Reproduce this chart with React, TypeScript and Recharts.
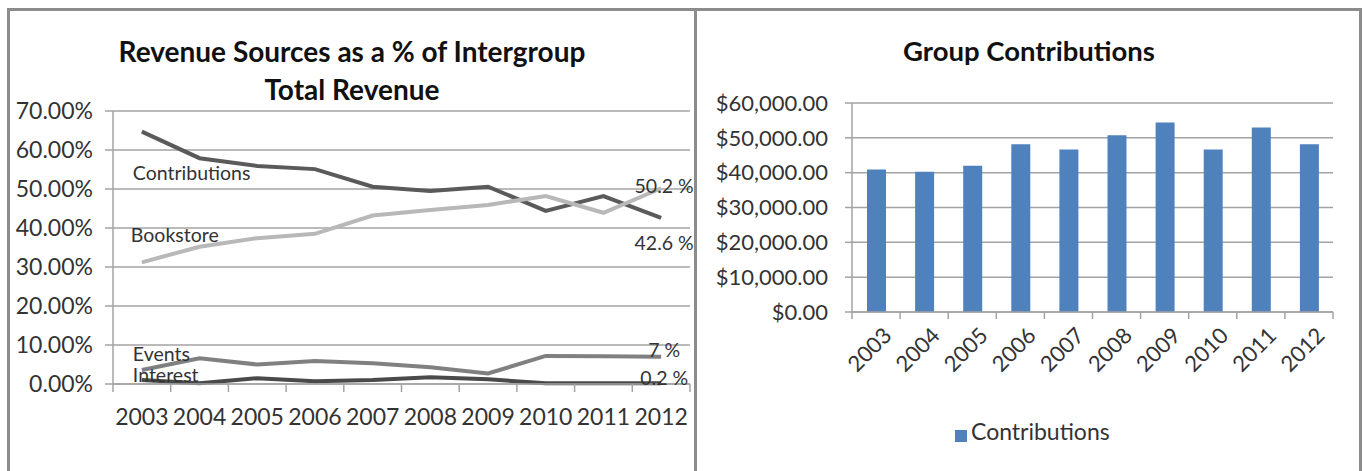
import { BarChart, Bar, CartesianGrid, Legend, Line, LineChart, XAxis, YAxis } from "recharts";

const years = ["2003", "2004", "2005", "2006", "2007", "2008", "2009", "2010", "2011", "2012"];
const contributionsPct = [0.647, 0.579, 0.559, 0.551, 0.506, 0.495, 0.506, 0.444, 0.482, 0.426];
const bookstorePct = [0.312, 0.352, 0.374, 0.385, 0.432, 0.446, 0.459, 0.482, 0.439, 0.502];
const eventsPct = [0.036, 0.066, 0.05, 0.059, 0.053, 0.043, 0.027, 0.072, 0.071, 0.07];
const interestPct = [0.01, 0.002, 0.015, 0.007, 0.01, 0.017, 0.012, 0.002, 0.002, 0.002];
const groupContributions = [40900, 40250, 41970, 48180, 46660, 50760, 54390, 46660, 52960, 48180];
const pctTicks = [0, 0.1, 0.2, 0.3, 0.4, 0.5, 0.6, 0.7];
const dollarTicks = [0, 10000, 20000, 30000, 40000, 50000, 60000];

const FONT = "Lato, 'Open Sans', sans-serif";
const GRID = "#a3a3a3";
const TEXT = "#333";
const FRAME = "#8c8c8c";

const lineData = years.map((y, i) => ({
  year: y,
  contributions: contributionsPct[i],
  bookstore: bookstorePct[i],
  events: eventsPct[i],
  interest: interestPct[i],
}));
const barData = years.map((y, i) => ({ year: y, contributions: groupContributions[i] }));

// left chart geometry
const L_W = 697, L_H = 471;
const L_M = { top: 111, right: 7, bottom: 47, left: 8 };
const L_YW = 105, L_XH = 40;
const L_BAND = (L_W - L_M.left - L_YW - L_M.right) / years.length;

// right chart geometry
const R_W = 666, R_H = 471;
const R_M = { top: 103, right: 30, bottom: 69, left: 0 };
const R_YW = 155, R_XH = 90;
const R_BAND = (R_W - R_M.left - R_YW - R_M.right) / years.length;

const series = [
  { key: "contributions", name: "Contributions", color: "#5a5a5a", nameDx: -9, nameDy: 41, endDy: 25 },
  { key: "bookstore", name: "Bookstore", color: "#b8b8b8", nameDx: -11, nameDy: -28, endDy: -3 },
  { key: "events", name: "Events", color: "#808080", nameDx: -9, nameDy: -16, endDy: -7 },
  { key: "interest", name: "Interest", color: "#4a4a4a", nameDx: -9, nameDy: -6, endDy: -6 },
];

const fmtEnd = (v: number) => {
  const s = (v * 100).toFixed(1).replace(/\.0$/, "");
  return `${s} %`;
};

function makeLabel(s: (typeof series)[number]) {
  return (p: any) => {
    const { x, y, index, value } = p;
    if (index === 0) {
      return (
        <text x={x + s.nameDx} y={y + s.nameDy} dominantBaseline="central" fontSize={19.5} fill={TEXT} fontFamily={FONT}>
          {s.name}
        </text>
      );
    }
    if (index === years.length - 1) {
      return (
        <text x={x + 3} y={y + s.endDy} textAnchor="middle" dominantBaseline="central" fontSize={19.5} fill={TEXT} fontFamily={FONT}>
          {fmtEnd(value)}
        </text>
      );
    }
    return <g />;
  };
}

function LeftTick(p: any) {
  const { x, y, payload, index } = p;
  const axisY = y - 8 - 17;
  const last = index === years.length - 1;
  return (
    <g>
      <line x1={x - L_BAND / 2} x2={x - L_BAND / 2} y1={axisY} y2={axisY + 8} stroke={GRID} strokeWidth={1.5} />
      {last && <line x1={x + L_BAND / 2} x2={x + L_BAND / 2} y1={axisY} y2={axisY + 8} stroke={GRID} strokeWidth={1.5} />}
      <text x={x} y={y} dy="0.71em" textAnchor="middle" fontSize={23} fill={TEXT} fontFamily={FONT}>
        {payload.value}
      </text>
    </g>
  );
}

function RightTick(p: any) {
  const { x, y, payload, index } = p;
  const axisY = y - 7 - 10;
  const last = index === years.length - 1;
  const tx = x + 6, ty = axisY + 14;
  return (
    <g>
      <line x1={x - R_BAND / 2} x2={x - R_BAND / 2} y1={axisY} y2={axisY + 7} stroke={GRID} strokeWidth={1.5} />
      {last && <line x1={x + R_BAND / 2} x2={x + R_BAND / 2} y1={axisY} y2={axisY + 7} stroke={GRID} strokeWidth={1.5} />}
      <text x={tx} y={ty} dy="0.71em" textAnchor="end" transform={`rotate(-45 ${tx} ${ty})`} fontSize={22} fill={TEXT} fontFamily={FONT}>
        {payload.value}
      </text>
    </g>
  );
}

const fmtPct = (v: number) => `${(v * 100).toFixed(2)}%`;
const fmtDollar = (v: number) => "$" + v.toLocaleString("en-US", { minimumFractionDigits: 2, maximumFractionDigits: 2 });

export default function App() {
  return (
    <div style={{ position: "absolute", left: 0, top: 0, width: 1363, height: 471, overflow: "hidden", background: "#fff", fontFamily: FONT }}>
      {/* panel frames */}
      <div style={{ position: "absolute", left: 7, top: 8, width: 690, height: 480, borderTop: `3px solid ${FRAME}`, borderLeft: `3px solid ${FRAME}`, borderRight: `3px solid ${FRAME}`, boxSizing: "border-box" }} />
      <div style={{ position: "absolute", left: 697, top: 8, width: 665, height: 480, borderTop: `3px solid ${FRAME}`, borderRight: `3px solid ${FRAME}`, boxSizing: "border-box" }} />

      <div style={{ position: "absolute", left: 0, top: 32, width: 704, textAlign: "center", fontSize: 28, fontWeight: 700, lineHeight: "38px", color: "#111" }}>
        Revenue Sources as a % of Intergroup
        <br />
        Total Revenue
      </div>
      <div style={{ position: "absolute", left: 697, top: 32, width: 664, textAlign: "center", fontSize: 27.5, fontWeight: 700, lineHeight: "38px", color: "#111" }}>
        Group Contributions
      </div>

      <div style={{ position: "absolute", left: 0, top: 0 }}>
        <LineChart width={L_W} height={L_H} data={lineData} margin={L_M} style={{ overflow: "visible" }}>
          <CartesianGrid vertical={false} stroke={GRID} strokeWidth={1.5} />
          <XAxis
            dataKey="year"
            height={L_XH}
            padding={{ left: L_BAND / 2, right: L_BAND / 2 }}
            tickSize={8}
            tickMargin={17}
            tickLine={false}
            tick={LeftTick}
            interval={0}
            stroke={GRID}
            strokeWidth={1.5}
          />
          <YAxis
            width={L_YW}
            domain={[0, 0.7]}
            ticks={pctTicks}
            interval={0}
            tickFormatter={fmtPct}
            tickSize={8}
            tickMargin={12}
            stroke={GRID}
            strokeWidth={1.5}
            tick={{ fontSize: 23, fill: TEXT, fontFamily: FONT }}
          />
          {series.map((s) => (
            <Line
              key={s.key}
              dataKey={s.key}
              type="linear"
              stroke={s.color}
              strokeWidth={4}
              dot={false}
              isAnimationActive={false}
              label={makeLabel(s)}
            />
          ))}
        </LineChart>
      </div>

      <div style={{ position: "absolute", left: 697, top: 0 }}>
        <BarChart width={R_W} height={R_H} data={barData} margin={R_M}>
          <CartesianGrid vertical={false} stroke={GRID} strokeWidth={1.5} />
          <XAxis dataKey="year" height={R_XH} tickSize={7} tickMargin={10} tickLine={false} tick={RightTick} interval={0} stroke={GRID} strokeWidth={1.5} />
          <YAxis
            width={R_YW}
            domain={[0, 60000]}
            ticks={dollarTicks}
            interval={0}
            tickFormatter={fmtDollar}
            tickSize={7}
            tickMargin={17}
            stroke={GRID}
            strokeWidth={1.5}
            tick={{ fontSize: 22, fill: TEXT, fontFamily: FONT }}
          />
          <Legend
            layout="horizontal"
            align="center"
            verticalAlign="middle"
            iconType="square"
            iconSize={12}
            wrapperStyle={{ left: 258, top: 417, bottom: "auto", width: "auto" }}
            formatter={(v: string) => <span style={{ color: TEXT, fontSize: 23, fontFamily: FONT }}>{v}</span>}
          />
          <Bar dataKey="contributions" name="Contributions" fill="#4f81bd" barSize={19} isAnimationActive={false} />
        </BarChart>
      </div>
    </div>
  );
}
